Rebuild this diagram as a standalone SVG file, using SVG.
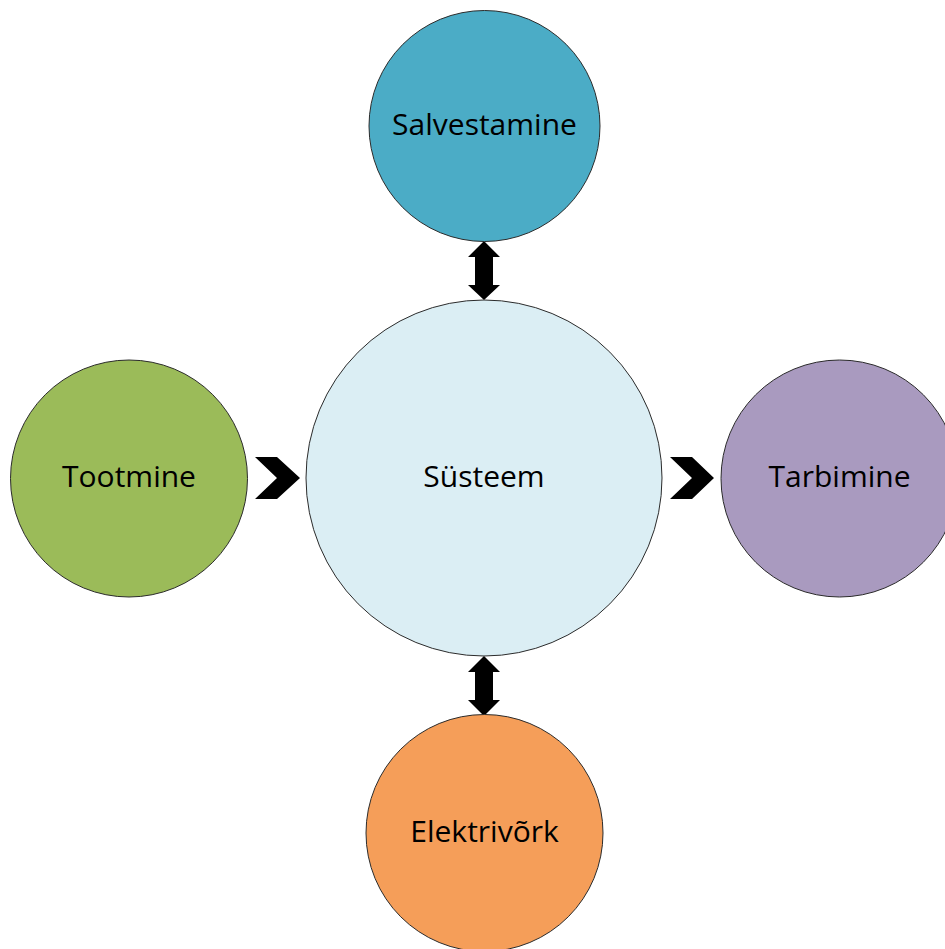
<svg xmlns="http://www.w3.org/2000/svg" width="945" height="949" viewBox="0 0 945 949">
<style>
.n{stroke:#2b2b2b;stroke-width:1}
.t{font-family:"Open Sans","Liberation Sans",sans-serif;font-size:30px;fill:#000;text-anchor:middle;dominant-baseline:central}
.c{fill:#000;stroke:none}
</style>
<rect width="945" height="949" fill="#fff"/>
<g id="connectors">
<path class="c" d="M484,241 L500,257 L493,257 L493,285 L500,285 L484,300 L468,285 L475,285 L475,257 L468,257 Z"/>
<path class="c" d="M484,656 L500,672 L493,672 L493,700 L500,700 L484,716 L468,700 L475,700 L475,672 L468,672 Z"/>
<path class="c" d="M255,457 L277,457 L300,478 L277,499 L255,499 L277,478 Z"/>
<path class="c" d="M670,457 L692,457 L714,478 L692,499 L670,499 L692,478 Z"/>
</g>
<g id="center">
<circle class="n" cx="484" cy="478" r="178" fill="#DBEEF4"/>
<text class="t" x="484" y="475">Süsteem</text>
</g>
<g id="salvestamine">
<circle class="n" cx="484.5" cy="126" r="115.5" fill="#4BACC6"/>
<text class="t" x="484.5" y="123">Salvestamine</text>
</g>
<g id="tootmine">
<circle class="n" cx="129" cy="478.5" r="118.5" fill="#9BBB59"/>
<text class="t" x="129" y="475">Tootmine</text>
</g>
<g id="tarbimine">
<circle class="n" cx="839.5" cy="478.5" r="118.5" fill="#A99ABF"/>
<text class="t" x="839.5" y="475">Tarbimine</text>
</g>
<g id="elektrivork">
<circle class="n" cx="484.5" cy="833" r="118.5" fill="#F59E59"/>
<text class="t" x="484.5" y="830">Elektrivõrk</text>
</g>
</svg>
